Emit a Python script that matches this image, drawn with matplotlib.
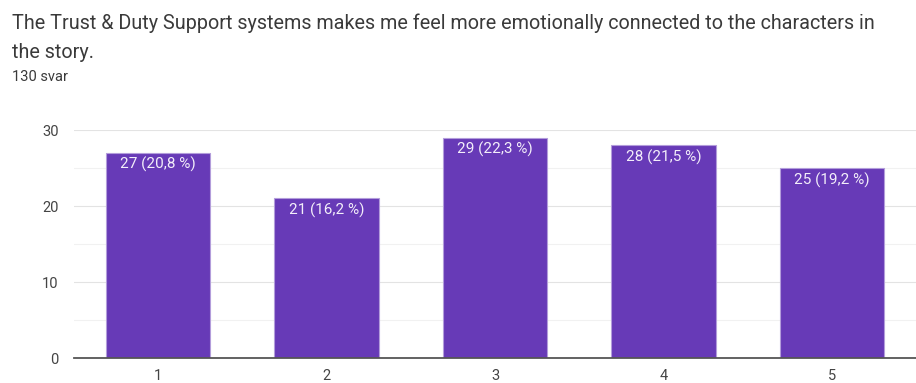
import matplotlib.pyplot as plt

categories = ["1", "2", "3", "4", "5"]
counts = [27, 21, 29, 28, 25]
percents = ["20,8", "16,2", "22,3", "21,5", "19,2"]
yticks = [0, 10, 20, 30]

plt.rcParams['font.family'] = ['Roboto', 'DejaVu Sans']

fig = plt.figure(figsize=(9.16, 3.83), dpi=100)
ax = fig.add_axes([74/916, 1 - 358/383, 1 - 74/916, (358 - 130)/383])

x = list(range(1, len(categories) + 1))
ax.bar(x, counts, width=0.62, color="#673ab7", edgecolor="#b39ddb", linewidth=0.8, zorder=3)
for xi, c, p in zip(x, counts, percents):
    ax.text(xi, c - 0.55, "%d (%s %%)" % (c, p), ha="center", va="top",
            color="#f3eefa", fontsize=11, zorder=4)

ax.set_xlim(0.5, 5.5)
ax.set_ylim(0, 30)
ax.set_xticks(x)
ax.set_xticklabels(categories)
ax.set_yticks(yticks)
for g in range(5, 31, 5):
    ax.axhline(g, color="#e3e3e3" if g % 10 == 0 else "#f1f1f1", linewidth=0.8, zorder=1)

for s in ["top", "right", "left"]:
    ax.spines[s].set_visible(False)
ax.spines["bottom"].set_color("#555555")
ax.spines["bottom"].set_linewidth(1.3)
ax.spines["bottom"].set_zorder(5)
ax.tick_params(axis="both", length=0, colors="#444444", labelsize=10.5)
ax.tick_params(axis="y", pad=11)
ax.tick_params(axis="x", pad=8)

fig.text(12/916, 1 - 23/383, "The Trust & Duty Support systems makes me feel more emotionally connected to the characters in",
         fontsize=14.2, color="#3a3a3a", va="center")
fig.text(12/916, 1 - 52/383, "the story.", fontsize=14.2, color="#3a3a3a", va="center")
fig.text(12/916, 1 - 77/383, "130 svar", fontsize=10.5, color="#3a3a3a", va="center")

fig.savefig("out.png", dpi=100)
